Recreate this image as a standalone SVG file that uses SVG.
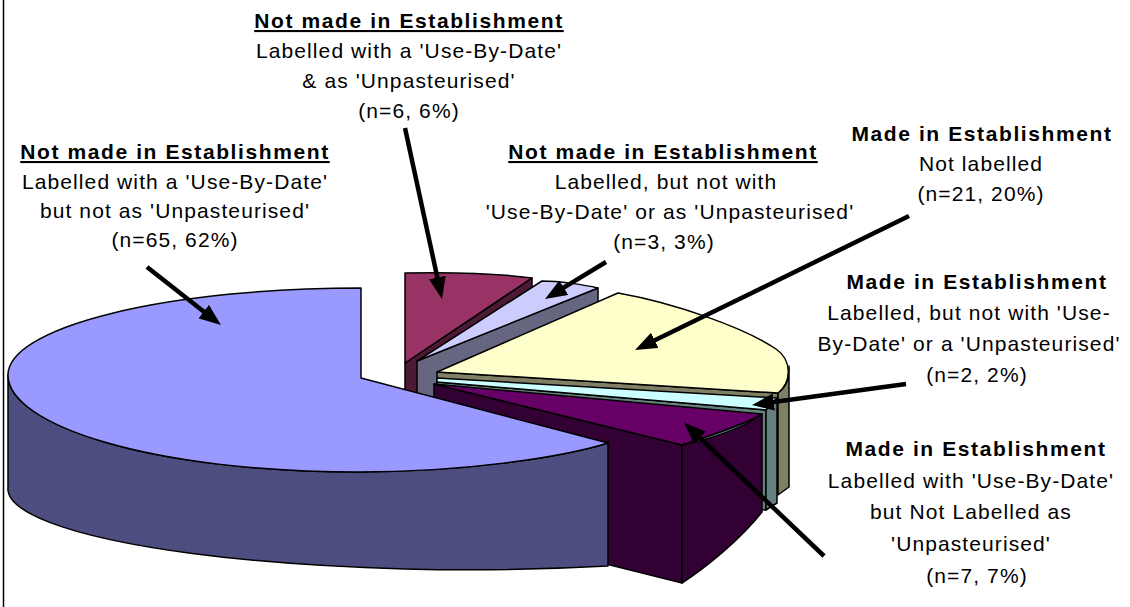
<svg xmlns="http://www.w3.org/2000/svg" width="1130" height="607" viewBox="0 0 1130 607">
<style>
  text { font-family: "Liberation Sans", Arial, Helvetica, sans-serif; font-size: 21px; fill: #000; text-anchor: middle; }
  .h { font-weight: bold; letter-spacing: 1.6px; }
  .u { text-decoration: underline; }
  .t { letter-spacing: 1.1px; }
  .f { stroke: #000; stroke-width: 1.5; stroke-linejoin: round; }
  .conn { stroke: #000; stroke-width: 4.5; fill: none; marker-end: url(#ah); }
</style>
<defs>
  <marker id="ah" markerUnits="userSpaceOnUse" viewBox="0 0 22 17" markerWidth="22" markerHeight="17" refX="4" refY="8.5" orient="auto">
    <path d="M0,0 L22,8.5 L0,17 z" fill="#000"/>
  </marker>
</defs>
<rect x="0" y="0" width="1130" height="607" fill="#fff"/>
<line x1="3.5" y1="0" x2="3.5" y2="607" stroke="#000" stroke-width="1.5"/>

<g id="pie">
  <g id="slice-maroon">
    <path class="f" fill="#4D1A33" d="M405,363 L532,278 L532,378 L405,463 Z"/>
    <path class="f" fill="#993366" d="M405,363 L405,273 C450,272 495,273 532,278 Z"/>
  </g>
  <g id="slice-lavender">
    <path class="f" fill="#666680" d="M417,361 L598,288 L598,388 L417,461 Z"/>
    <path class="f" fill="#CCCCFF" d="M417,361 L542,281 C560,281 585,285 598,288 Z"/>
  </g>
  <g id="slice-yellow">
    <path class="f" fill="#808066" d="M437,372 L778,393 L778,493 L437,472 Z"/>
    <path class="f" fill="#808066" d="M789,366 C790,378 786,387 778,393 L778,495 L789,487 Z"/>
    <path class="f" fill="#FFFFCC" d="M437,372 L618,293 C675,303 745,328 776,349 C792,360 792,382 778,393 Z"/>
  </g>
  <g id="slice-cyan">
    <path class="f" fill="#668080" d="M437,382 L766,410 L766,510 L437,482 Z"/>
    <path class="f" fill="#668080" d="M766,410 L777,398 L777,503 L766,510 Z"/>
    <path class="f" fill="#CCFFFF" d="M437,378 L777,398 L766,410 L437,382 Z"/>
  </g>
  <g id="slice-purple">
    <path class="f" fill="#330033" d="M434,384 L682,445 L682,583 L434,521 Z"/>
    <path class="f" fill="#330033" d="M682,445 C705,440 740,430 762,414 L762,512 C740,540 705,568 682,583 Z"/>
    <path class="f" fill="#660066" d="M434,384 L762,414 C745,425 705,437 682,445 Z"/>
  </g>
  <g id="slice-blue">
    <path class="f" fill="#4D4D80" d="M8,375 C8,425 150,472 360,472 C460,472 560,458 608,443 L608,566 A462,81 0 0 1 8,487 Z"/>
    <path class="f" fill="#9999FF" d="M361,378 L361,288 A353,87 0 0 0 8,375 C8,425 150,472 360,472 C460,472 560,458 608,443 Z"/>
  </g>
</g>

<g id="connectors">
  <line class="conn" x1="147" y1="267" x2="206.8" y2="314"/>
  <line class="conn" x1="405" y1="128" x2="438.2" y2="281.4"/>
  <line class="conn" x1="606" y1="262" x2="560.4" y2="289.7"/>
  <line class="conn" x1="909" y1="216" x2="651.2" y2="342.1"/>
  <line class="conn" x1="906" y1="384" x2="769.8" y2="402.6"/>
  <line class="conn" x1="824" y1="556" x2="697" y2="435"/>
</g>

<g id="label-nm-usebydate-unpast">
  <text class="h u" x="409" y="28">Not made in Establishment</text>
  <text class="t" x="409" y="58">Labelled with a 'Use-By-Date'</text>
  <text class="t" x="409" y="88">&amp; as 'Unpasteurised'</text>
  <text class="t" x="409" y="118">(n=6, 6%)</text>
</g>
<g id="label-nm-usebydate">
  <text class="h u" x="175" y="159">Not made in Establishment</text>
  <text class="t" x="175" y="189">Labelled with a 'Use-By-Date'</text>
  <text class="t" x="175" y="218">but not as 'Unpasteurised'</text>
  <text class="t" x="175" y="247">(n=65, 62%)</text>
</g>
<g id="label-nm-labelled">
  <text class="h u" x="663" y="159">Not made in Establishment</text>
  <text class="t" x="666" y="189">Labelled, but not with</text>
  <text class="t" x="670" y="219">'Use-By-Date' or as 'Unpasteurised'</text>
  <text class="t" x="664" y="249">(n=3, 3%)</text>
</g>
<g id="label-m-notlabelled">
  <text class="h" x="982" y="141">Made in Establishment</text>
  <text class="t" x="981" y="171">Not labelled</text>
  <text class="t" x="981" y="201">(n=21, 20%)</text>
</g>
<g id="label-m-labelled">
  <text class="h" x="977" y="289">Made in Establishment</text>
  <text class="t" x="969" y="320">Labelled, but not with 'Use-</text>
  <text class="t" x="969" y="351">By-Date' or a 'Unpasteurised'</text>
  <text class="t" x="977" y="382">(n=2, 2%)</text>
</g>
<g id="label-m-usebydate">
  <text class="h" x="976" y="456">Made in Establishment</text>
  <text class="t" x="971" y="488">Labelled with 'Use-By-Date'</text>
  <text class="t" x="971" y="519">but Not Labelled as</text>
  <text class="t" x="971" y="551">'Unpasteurised'</text>
  <text class="t" x="977" y="583">(n=7, 7%)</text>
</g>
</svg>
